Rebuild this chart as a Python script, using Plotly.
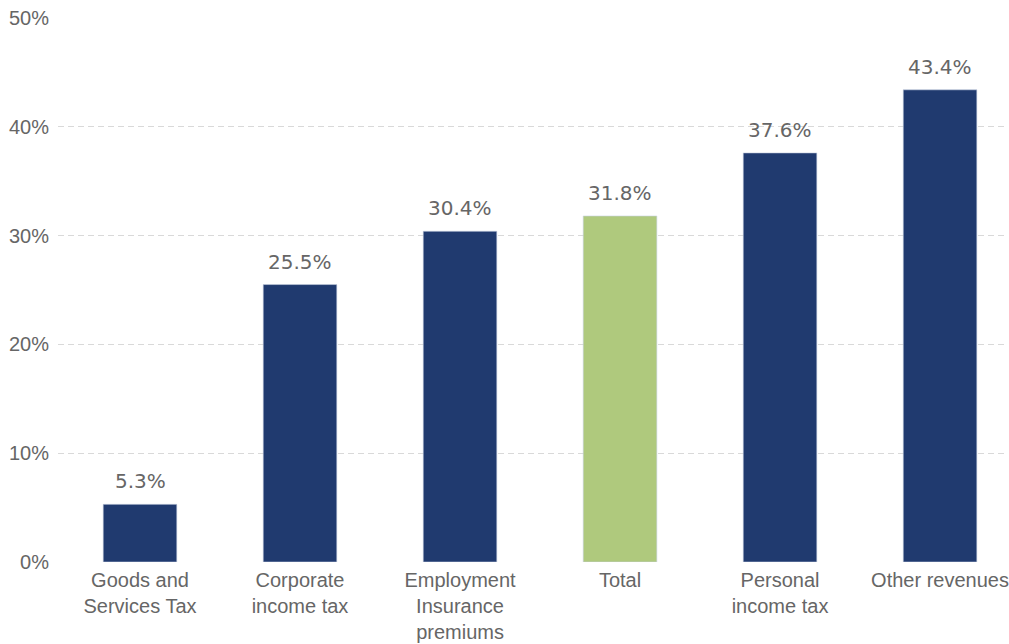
import plotly.graph_objects as go

categories = ["Goods and<br>Services Tax", "Corporate<br>income tax", "Employment<br>Insurance<br>premiums",
              "Total", "Personal<br>income tax", "Other revenues"]
values = [5.3, 25.5, 30.4, 31.8, 37.6, 43.4]
colors = ["#203a6f", "#203a6f", "#203a6f", "#afc97d", "#203a6f", "#203a6f"]
labels = [f"{v:.1f}%" for v in values]
yticks = [0, 10, 20, 30, 40, 50]
yticklabels = ["0%", "10%", "20%", "30%", "40%", "50%"]

xs = list(range(len(categories)))
fig = go.Figure(go.Bar(
    x=xs, y=values,
    marker=dict(color=colors, line=dict(color="#c8d0e0", width=0.6)),
    width=0.46,
))

for x, v, t in zip(xs, values, labels):
    fig.add_annotation(x=x, y=v, text=t, showarrow=False, yanchor="bottom", yshift=9,
                       font=dict(family="DejaVu Sans", size=20, color="#666666"))

fig.update_layout(
    width=1009, height=644,
    margin=dict(l=58, r=4, t=18, b=82),
    plot_bgcolor="white", paper_bgcolor="white",
    showlegend=False,
    font=dict(family="Liberation Sans, Arial", size=20, color="#666666"),
    xaxis=dict(tickmode="array", tickvals=xs, ticktext=categories,
               range=[-0.5125, 5.406], showgrid=False, zeroline=False, showline=False, ticks="",
               ticklabelstandoff=4, automargin=False),
    yaxis=dict(range=[0, 50], tickvals=yticks, ticktext=yticklabels,
               showgrid=True, gridcolor="#d9d9d9", griddash="6px,4px", gridwidth=1,
               zeroline=False, showline=False, ticks="", ticklabelstandoff=8, automargin=False),
)

fig.write_html("out.html")
